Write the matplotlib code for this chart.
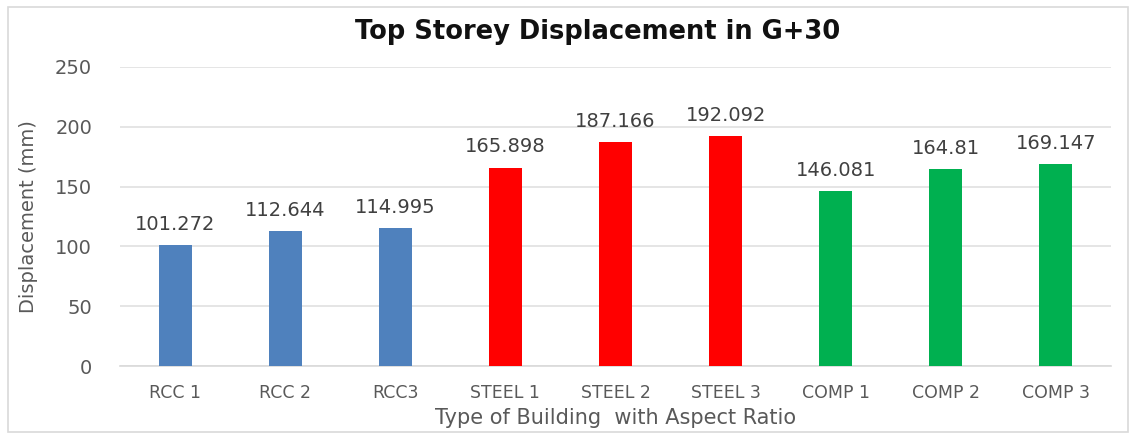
import matplotlib
matplotlib.use("Agg")
import matplotlib.pyplot as plt
from matplotlib.patches import Rectangle

categories = ["RCC 1", "RCC 2", "RCC3", "STEEL 1", "STEEL 2", "STEEL 3", "COMP 1", "COMP 2", "COMP 3"]
values = [101.272, 112.644, 114.995, 165.898, 187.166, 192.092, 146.081, 164.81, 169.147]
value_labels = ["101.272", "112.644", "114.995", "165.898", "187.166", "192.092", "146.081", "164.81", "169.147"]
colors = ["#4F81BD"] * 3 + ["#FF0000"] * 3 + ["#00B050"] * 3
yticks = [0, 50, 100, 150, 200, 250]

plt.rcParams['font.family'] = ['DejaVu Sans']

fig = plt.figure(figsize=(11.35, 4.38), dpi=100)
ax = fig.add_axes([120/1135, 1 - 366/438, 991/1135, 299/438])

x = list(range(len(categories)))
bars = ax.bar(x, values, width=0.3, color=colors, zorder=3)
for xi, v, lab in zip(x, values, value_labels):
    ax.annotate(lab, (xi, v), xytext=(0, 8), textcoords="offset points",
                ha="center", va="bottom", fontsize=14, color="#404040")

ax.set_xlim(-0.5, len(categories) - 0.5)
ax.set_ylim(0, 250)
ax.set_yticks(yticks)
ax.set_xticks(x)
ax.set_xticklabels(categories, fontsize=12.5, color="#595959")
ax.tick_params(axis="y", labelsize=14, labelcolor="#595959", length=0, pad=20)
ax.tick_params(axis="x", length=0, pad=13)
ax.grid(axis="y", color="#E0E0E0", linewidth=1.2, zorder=0)
for s in ["top", "right", "left"]:
    ax.spines[s].set_visible(False)
ax.spines["bottom"].set_color("#D9D9D9")
ax.spines["bottom"].set_linewidth(1.2)

ax.set_xlabel("Type of Building  with Aspect Ratio", fontsize=15, color="#595959", labelpad=4)
ax.set_ylabel("Displacement (mm)", fontsize=14, color="#595959", labelpad=2)
ax.yaxis.set_label_coords(-82/991, 0.5)
fig.text(598/1135, 1 - 32/438, "Top Storey Displacement in G+30", ha="center", va="center",
         fontsize=18.5, fontweight="bold", color="#111111")

fig.patches.append(Rectangle((8/1135, 6/438), 1120/1135, 425/438, transform=fig.transFigure,
                             fill=False, edgecolor="#D9D9D9", linewidth=1.2))

fig.savefig("out.png", dpi=100, facecolor="white")
